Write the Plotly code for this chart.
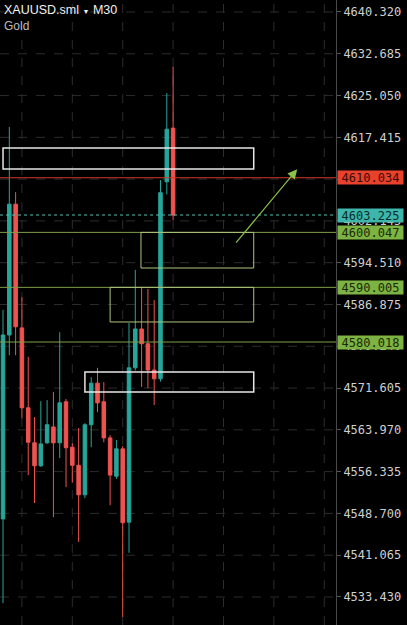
import plotly.graph_objects as go

# ---- data ----
idx = list(range(28))
opens = [4547.7, 4581.3, 4605.2, 4582.6, 4568.0, 4561.6, 4557.4, 4561.6, 4564.5, 4561.6,
         4569.1, 4560.8, 4557.5, 4552.1, 4564.9, 4572.5, 4569.1, 4562.5, 4555.5, 4560.5,
         4547.1, 4575.3, 4582.4, 4579.7, 4574.9, 4573.3, 4609.3, 4619.1]
highs = [4585.9, 4619.3, 4607.4, 4588.2, 4577.3, 4566.3, 4569.2, 4569.4, 4570.9, 4581.8,
         4569.6, 4561.5, 4564.3, 4565.2, 4573.6, 4575.3, 4572.7, 4563.0, 4562.1, 4561.0,
         4583.5, 4593.2, 4590.1, 4589.7, 4587.7, 4609.6, 4625.5, 4630.3]
lows = [4532.3, 4577.6, 4577.6, 4566.1, 4555.7, 4550.6, 4557.2, 4561.4, 4548.0, 4558.8,
        4553.5, 4554.3, 4543.5, 4551.5, 4560.8, 4567.2, 4561.7, 4550.2, 4555.0, 4529.8,
        4541.5, 4574.8, 4571.8, 4571.6, 4568.5, 4572.8, 4607.0, 4602.3]
closes = [4581.3, 4605.2, 4582.8, 4568.0, 4561.7, 4557.4, 4561.4, 4564.9, 4561.6, 4568.9,
          4560.7, 4557.5, 4552.1, 4564.9, 4572.5, 4568.9, 4562.5, 4555.7, 4560.5, 4547.0,
          4575.3, 4582.4, 4579.7, 4574.9, 4573.3, 4607.3, 4618.9, 4603.2]

tick_vals = [4640.320, 4632.685, 4625.050, 4617.415, 4609.780, 4602.145, 4594.510,
             4586.875, 4579.240, 4571.605, 4563.970, 4556.335, 4548.700, 4541.065, 4533.430]
# 4609.780 is fully hidden behind the red price label in the reference
tick_text = ["" if v == 4609.780 else "%.3f" % v for v in tick_vals]
vgrid = [3, 11, 19, 27, 35, 43, 51]

price_red = 4610.034      # red level line
price_now = 4603.225      # current price (dotted)
green_levels = [4600.047, 4590.005, 4580.018]

# zones: (x0, x1, y0, y1)
white_zones = [(0.0, 39.8, 4611.63, 4615.47), (13.0, 39.8, 4570.89, 4574.54)]
green_zones = [(21.9, 39.8, 4593.54, 4600.047), (17.0, 39.8, 4583.68, 4590.005)]
arrow_from = (36.8, 4597.9)
arrow_to = (46.7, 4611.6)

UP = "#26a69a"
DOWN = "#ef5350"
GREEN = "#7f9f48"

fig = go.Figure()
fig.add_trace(go.Candlestick(
    x=idx, open=opens, high=highs, low=lows, close=closes,
    increasing=dict(line=dict(color=UP, width=1), fillcolor=UP),
    decreasing=dict(line=dict(color=DOWN, width=1), fillcolor=DOWN),
    whiskerwidth=0, showlegend=False, hoverinfo="skip",
))

shapes = []
for v in tick_vals:
    shapes.append(dict(type="line", xref="paper", x0=0, x1=1, yref="y", y0=v, y1=v,
                       line=dict(color="#2c2c2c", width=1, dash="dash"), layer="below"))
for g in vgrid:
    shapes.append(dict(type="line", xref="x", x0=g, x1=g, yref="paper", y0=0, y1=1,
                       line=dict(color="#2c2c2c", width=1, dash="dash"), layer="below"))
shapes.append(dict(type="line", xref="paper", x0=0, x1=1, y0=price_red, y1=price_red,
                   line=dict(color="#d23a28", width=1)))
shapes.append(dict(type="line", xref="paper", x0=0, x1=1, y0=price_now, y1=price_now,
                   line=dict(color="#5bbfb3", width=1, dash="dot")))
for g in green_levels:
    shapes.append(dict(type="line", xref="paper", x0=0, x1=1, y0=g, y1=g,
                       line=dict(color=GREEN, width=1)))
for (x0, x1, y0, y1) in white_zones:
    shapes.append(dict(type="rect", x0=x0, x1=x1, y0=y0, y1=y1,
                       line=dict(color="#e6e6e6", width=1.5)))
for (x0, x1, y0, y1) in green_zones:
    shapes.append(dict(type="rect", x0=x0, x1=x1, y0=y0, y1=y1,
                       line=dict(color="#aec47e", width=1)))

annotations = [
    dict(x=arrow_to[0], y=arrow_to[1], ax=arrow_from[0], ay=arrow_from[1],
         xref="x", yref="y", axref="x", ayref="y", text="", showarrow=True,
         arrowhead=2, arrowsize=1.6, arrowwidth=1.2, arrowcolor="#8bc34a"),
    dict(x=0, y=1, xref="paper", yref="paper", xanchor="left", yanchor="top",
         xshift=2, yshift=-1, showarrow=False, align="left",
         text="XAUUSD.sml <span style='font-size:7px'>▼</span> M30",
         font=dict(family="Liberation Sans, Arial", size=12.5, color="#f0f0f0")),
    dict(x=0, y=1, xref="paper", yref="paper", xanchor="left", yanchor="top",
         xshift=2, yshift=-17, showarrow=False, align="left", text="Gold",
         font=dict(family="Liberation Sans, Arial", size=12, color="#bdbdbd")),
]
label_font = "DejaVu Sans Mono, monospace"
for val, bg, fg in [(price_red, "#e8412c", "#3a0c05"),
                    (price_now, "#3fb6ab", "#062e2a"),
                    (green_levels[0], "#7cb342", "#1b2a08"),
                    (green_levels[1], "#7cb342", "#1b2a08"),
                    (green_levels[2], "#7cb342", "#1b2a08")]:
    annotations.append(dict(x=1, y=val, xref="paper", yref="y", xanchor="left",
                            yanchor="middle", xshift=1, showarrow=False,
                            text="%.3f" % val, bgcolor=bg, borderpad=0,
                            width=65, height=13, align="center",
                            font=dict(family=label_font, size=12, color=fg)))

fig.update_layout(
    width=407, height=625,
    margin=dict(l=0, r=71, t=0, b=0),
    paper_bgcolor="#000000", plot_bgcolor="#000000",
    shapes=shapes, annotations=annotations,
    boxgap=0.2,
    xaxis=dict(range=[-0.48, 52.86], showgrid=False, zeroline=False,
               showticklabels=False, rangeslider=dict(visible=False), fixedrange=True),
    yaxis=dict(side="right", range=[4528.31, 4642.51], tickvals=tick_vals,
               ticktext=tick_text, showgrid=False, zeroline=False,
               showline=True, linecolor="#4a4a4a", linewidth=1,
               ticks="outside", ticklen=4, tickcolor="#555555",
               tickfont=dict(family=label_font, size=12, color="#cfcfcf")),
)

fig.write_html("out.html")
